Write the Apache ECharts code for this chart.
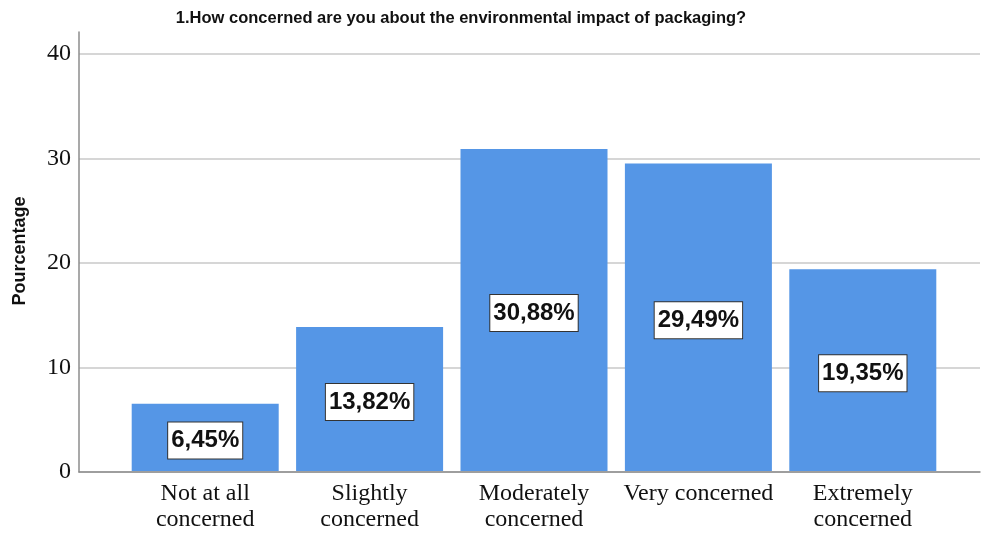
<!DOCTYPE html>
<html>
<head>
<meta charset="utf-8">
<script src="https://cdn.jsdelivr.net/npm/echarts@6/dist/echarts.min.js"></script>
<style>
  html, body { margin: 0; padding: 0; background: #fff; }
  #chart { width: 981px; height: 533px; }
</style>
</head>
<body>
<div id="chart"></div>
<script>
// Survey answers and their share of respondents (%)
const categories = ['Not at all\nconcerned', 'Slightly\nconcerned', 'Moderately\nconcerned', 'Very concerned', 'Extremely\nconcerned'];
const percentages = [6.45, 13.82, 30.88, 29.49, 19.35];
const yTicks = [0, 10, 20, 30, 40];

const chart = echarts.init(document.getElementById('chart'), null, { renderer: 'canvas' });

const serif = '"Liberation Serif", "Times New Roman", serif';
const sans = '"Liberation Sans", Arial, sans-serif';

chart.setOption({
  animation: false,
  backgroundColor: '#ffffff',
  title: {
    text: '1.How concerned are you about the environmental impact of packaging?',
    left: 456,
    textAlign: 'center',
    top: 5,
    textStyle: { fontFamily: sans, fontSize: 16.5, fontWeight: 'bold', color: '#111' }
  },
  grid: [
    // frame with gridlines and value labels
    { left: 79, right: 1, top: 54, bottom: 61 },
    // taller grid carrying the vertical axis line
    { left: 79, right: 1, top: 32, bottom: 61 },
    // bars
    { left: 123, right: 36, top: 54, bottom: 61 }
  ],
  xAxis: [
    {
      gridIndex: 0, type: 'value', min: 0, max: 1,
      axisLine: { show: true, lineStyle: { color: '#8c8c8c', width: 1.5 } },
      axisTick: { show: false }, axisLabel: { show: false }, splitLine: { show: false }
    },
    {
      gridIndex: 1, type: 'value', min: 0, max: 1, show: false
    },
    {
      gridIndex: 2, type: 'category', data: categories,
      axisLine: { show: false }, axisTick: { show: false },
      axisLabel: {
        interval: 0, margin: 10,
        fontFamily: serif, fontSize: 24, lineHeight: 26, color: '#111'
      }
    }
  ],
  yAxis: [
    {
      gridIndex: 0, type: 'value', min: yTicks[0], max: yTicks[yTicks.length - 1], interval: 10,
      name: 'Pourcentage', nameLocation: 'middle', nameGap: 50, nameRotate: 90,
      nameTextStyle: { fontFamily: sans, fontSize: 18, fontWeight: 'bold', color: '#111', padding: [0, 0, 0, 24] },
      axisLine: { show: false }, axisTick: { show: false },
      axisLabel: { margin: 8, fontFamily: serif, fontSize: 24, color: '#111' },
      splitLine: { show: true, lineStyle: { color: '#c8c8c8', width: 1.5 } }
    },
    {
      gridIndex: 1, type: 'value', min: 0, max: 1,
      axisLine: { show: true, lineStyle: { color: '#8c8c8c', width: 1.5 } },
      axisTick: { show: false }, axisLabel: { show: false }, splitLine: { show: false }
    },
    {
      gridIndex: 2, type: 'value', min: yTicks[0], max: yTicks[yTicks.length - 1], show: false
    }
  ],
  series: [{
    type: 'bar',
    xAxisIndex: 2,
    yAxisIndex: 2,
    data: percentages,
    barWidth: 147,
    itemStyle: { color: '#5596e6' },
    label: {
      show: true,
      position: 'inside',
      offset: [0, 3],
      formatter: p => p.value.toFixed(2).replace('.', ',') + '%',
      fontFamily: sans, fontSize: 24, fontWeight: 'bold', color: '#111',
      lineHeight: 27,
      backgroundColor: '#ffffff',
      borderColor: '#333333', borderWidth: 1,
      padding: [5, 3, 4, 3]
    }
  }]
});
</script>
</body>
</html>
